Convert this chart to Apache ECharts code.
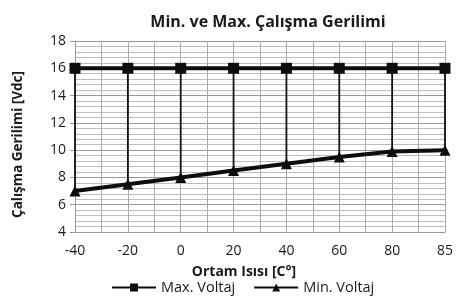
<!DOCTYPE html>
<html>
<head>
<meta charset="utf-8">
<script src="https://cdn.jsdelivr.net/npm/echarts@6/dist/echarts.min.js"></script>
<style>
  html, body { margin: 0; padding: 0; background: #fff; }
  #chartBox { width: 456px; height: 305px; }
</style>
</head>
<body>
<div id="chartBox"></div>
<script>
// veri
const categories = ['-40', '-20', '0', '20', '40', '60', '80', '85'];
const maxVoltaj = [16, 16, 16, 16, 16, 16, 16, 16];
const minVoltaj = [7, 7.5, 8, 8.5, 9, 9.5, 9.9, 10];

const font = '"Open Sans", sans-serif';
const chart = echarts.init(document.getElementById('chartBox'));

// x ekseni: değer ekseni, etiketler kategorilerden
const toPoints = arr => arr.map((v, i) => [i, v]);
const hiLow = categories.map((c, i) => [i, minVoltaj[i], maxVoltaj[i]]);

const option = {
  animation: false,
  backgroundColor: '#fff',
  title: {
    text: 'Min. ve Max. Çalışma Gerilimi',
    left: 263,
    textAlign: 'center',
    top: 9,
    textStyle: { fontFamily: font, fontSize: 16, fontWeight: 'bold', color: '#1a1a1a' }
  },
  grid: { left: 75, right: 7, top: 41, bottom: 73 },
  legend: {
    bottom: 5,
    left: 106,
    itemWidth: 44,
    itemHeight: 10,
    itemGap: 18,
    textStyle: { fontFamily: font, fontSize: 14.5, color: '#1a1a1a' },
    data: ['Max. Voltaj', 'Min. Voltaj']
  },
  xAxis: {
    type: 'value',
    min: 0,
    max: categories.length - 1,
    interval: 0.5,
    name: 'Ortam Isısı [C°]',
    nameLocation: 'middle',
    nameGap: 33,
    nameTextStyle: { fontFamily: font, fontSize: 14, fontWeight: 'bold', color: '#1a1a1a', padding: [0, 0, 0, -32] },
    axisLine: { show: true, lineStyle: { color: '#999' } },
    axisTick: { show: false },
    axisLabel: {
      fontFamily: font, fontSize: 14, color: '#1a1a1a', margin: 12,
      formatter: v => (Number.isInteger(v) ? categories[v] : '')
    },
    splitLine: { show: true, lineStyle: { color: '#aaa', width: 1 } }
  },
  yAxis: {
    type: 'value',
    min: 4,
    max: 18,
    interval: 2,
    name: 'Çalışma Gerilimi [Vdc]',
    nameLocation: 'middle',
    nameGap: 50,
    nameTextStyle: { fontFamily: font, fontSize: 13.5, fontWeight: 'bold', color: '#1a1a1a', padding: [0, 16, 0, 0] },
    axisLine: { show: true, lineStyle: { color: '#999' } },
    axisTick: { show: true, length: 5, lineStyle: { color: '#999' } },
    axisLabel: { fontFamily: font, fontSize: 14, color: '#1a1a1a', margin: 9 },
    splitLine: { show: true, lineStyle: { color: '#999', width: 1 } },
    minorTick: { show: false, splitNumber: 5 },
    minorSplitLine: { show: true, lineStyle: { color: '#bdbdbd', width: 1 } }
  },
  series: [
    {
      // yüksek-düşük çizgileri
      type: 'custom',
      silent: true,
      data: hiLow,
      renderItem: (params, api) => {
        const p1 = api.coord([api.value(0), api.value(1)]);
        const p2 = api.coord([api.value(0), api.value(2)]);
        return {
          type: 'line',
          shape: { x1: p1[0], y1: p1[1], x2: p2[0], y2: p2[1] },
          style: { stroke: '#111', lineWidth: 1.8 }
        };
      },
      z: 1
    },
    {
      name: 'Max. Voltaj',
      type: 'line',
      data: toPoints(maxVoltaj),
      symbol: 'rect',
      symbolSize: 11,
      lineStyle: { color: '#0d0d0d', width: 4 },
      itemStyle: { color: '#0d0d0d' },
      z: 3
    },
    {
      name: 'Min. Voltaj',
      type: 'line',
      data: toPoints(minVoltaj),
      symbol: 'triangle',
      symbolSize: 11,
      lineStyle: { color: '#0d0d0d', width: 4 },
      itemStyle: { color: '#0d0d0d' },
      z: 3
    }
  ]
};

chart.setOption(option);
</script>
</body>
</html>
